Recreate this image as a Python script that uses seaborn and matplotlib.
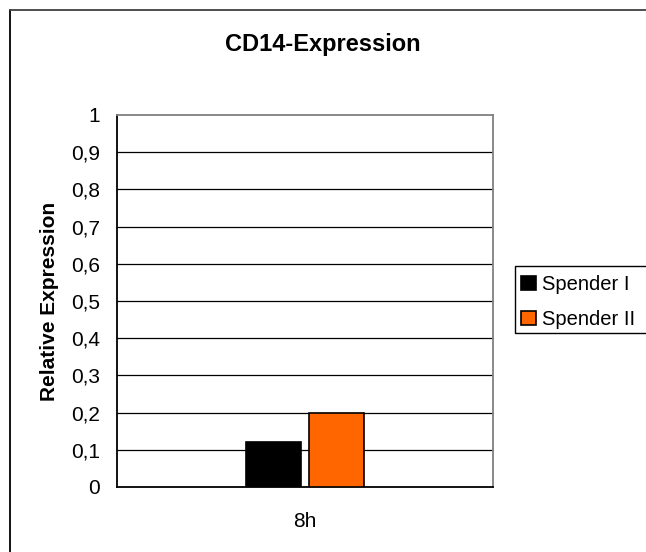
import matplotlib
matplotlib.use("Agg")
import matplotlib.pyplot as plt
import seaborn as sns
import pandas as pd
from matplotlib.patches import Rectangle
from matplotlib.lines import Line2D

categories = ["8h"]
series = ["Spender I", "Spender II"]
values_spender1 = [0.12]
values_spender2 = [0.2]
yticks = [0, 0.1, 0.2, 0.3, 0.4, 0.5, 0.6, 0.7, 0.8, 0.9, 1]
ytick_labels = ["0", "0,1", "0,2", "0,3", "0,4", "0,5", "0,6", "0,7", "0,8", "0,9", "1"]
colors = ["#000000", "#FF6600"]

df = pd.DataFrame({
    "Zeit": categories * 2,
    "Spender": [series[0]] * len(categories) + [series[1]] * len(categories),
    "Wert": values_spender1 + values_spender2,
})

sns.set_style("white")
plt.rcParams["font.family"] = ["Liberation Sans", "DejaVu Sans"]
plt.rcParams["text.color"] = "black"
plt.rcParams["axes.labelcolor"] = "black"
plt.rcParams["xtick.color"] = "black"
plt.rcParams["ytick.color"] = "black"

W, H = 646, 552
fig = plt.figure(figsize=(W / 100, H / 100), dpi=100)
ax = fig.add_axes([117 / W, 1 - 487 / H, (493 - 117) / W, (487 - 115) / H])

sns.barplot(data=df, x="Zeit", y="Wert", hue="Spender", palette=colors,
            saturation=1, width=0.336, gap=0.13, edgecolor="black", linewidth=1.2,
            ax=ax, legend=False, zorder=3)

ax.set_xlim(-0.5, 0.5)
ax.set_ylim(0, 1)
ax.set_yticks(yticks)
ax.set_yticklabels(ytick_labels, fontsize=15)
ax.set_xticks([-0.5, 0.5], minor=False)
ax.set_xticklabels(["", ""])
ax.set_xticks([0], minor=True)
ax.set_xticklabels(categories, minor=True, fontsize=15)
ax.tick_params(axis="x", which="minor", length=0, pad=18)
ax.tick_params(axis="x", which="major", length=5, width=1, direction="out")
ax.tick_params(axis="y", length=5, width=1, direction="out", pad=7)
ax.set_xlabel("")
ax.set_ylabel("Relative Expression", fontsize=15, fontweight="bold", labelpad=9)

for y in yticks[1:-1]:
    ax.axhline(y, color="black", linewidth=0.9, zorder=1)

ax.spines["left"].set_color("black")
ax.spines["bottom"].set_color("black")
ax.spines["top"].set_color("#808080")
ax.spines["right"].set_color("#808080")
for s in ax.spines.values():
    s.set_linewidth(1.3)
    s.set_visible(True)

fig.text(0.5, 1 - 45 / H, "CD14-Expression", ha="center", va="center",
         fontsize=17, fontweight="bold")

# Legend entries without their own frame; the frame runs off the right edge
handles = [Rectangle((0, 0), 1, 1, facecolor=c, edgecolor="black", linewidth=1.2)
           for c in colors]
leg = fig.legend(handles, series, loc="center left",
                 bbox_to_anchor=(514 / W, 1 - 302 / H),
                 frameon=False, fontsize=14.5, handlelength=0.74, handleheight=0.74,
                 handletextpad=0.3, borderpad=0.35, labelspacing=0.78,
                 borderaxespad=0)
fig.patches.append(Rectangle((515 / W, 1 - 333 / H), (700 - 515) / W, (333 - 266) / H,
                             transform=fig.transFigure, fill=False,
                             edgecolor="black", linewidth=1.0))

# Chart area outline: only its left and top edges fall inside the image
fig.add_artist(Line2D([9.5 / W, 9.5 / W], [0, 1 - 10 / H], transform=fig.transFigure,
                      color="black", linewidth=1.3))
fig.add_artist(Line2D([9.5 / W, 1], [1 - 10 / H, 1 - 10 / H], transform=fig.transFigure,
                      color="#404040", linewidth=1.3))

fig.savefig("out.png", dpi=100)
